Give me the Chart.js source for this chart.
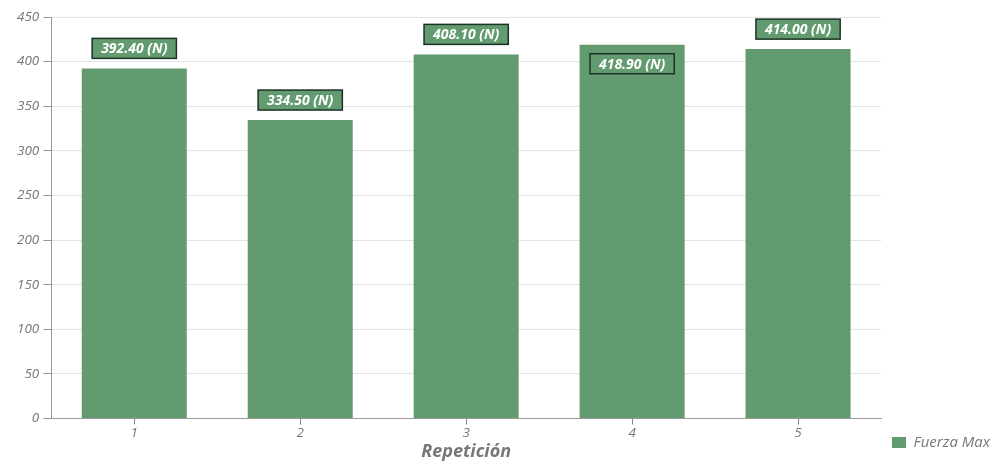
<!DOCTYPE html>
<html>
<head>
<meta charset="utf-8">
<script src="https://cdn.jsdelivr.net/npm/chart.js@4/dist/chart.umd.min.js"></script>
<style>
  html, body { margin: 0; padding: 0; background: #fff; }
  .ChartBox { width: 1000px; height: 461px; }
</style>
</head>
<body>
<div class="ChartBox"><canvas id="Chart"></canvas></div>
<script>
let repeticiones = ['1', '2', '3', '4', '5'];
let fuerzaMax = [392.40, 334.50, 408.10, 418.90, 414.00];
let yTicks = [0, 50, 100, 150, 200, 250, 300, 350, 400, 450];

let barColor = '#629b6f';
let grayText = '#777777';

// etiquetas "xxx.xx (N)" encima de cada barra
let valueLabels = {
    id: 'valueLabels',
    afterDatasetsDraw(chart) {
        let ctx = chart.ctx;
        let area = chart.chartArea;
        let meta = chart.getDatasetMeta(0);
        ctx.save();
        ctx.font = 'italic bold 14px "Open Sans"';
        meta.data.forEach((bar, i) => {
            let text = fuerzaMax[i].toFixed(2) + ' (N)';
            let w = ctx.measureText(text).width + 18;
            let h = 20;
            let top = bar.y - 10 - h;
            if (top < area.top) {
                top = bar.y + 9;
            }
            let left = bar.x - w / 2;
            ctx.fillStyle = barColor;
            ctx.fillRect(left, top, w, h);
            ctx.lineWidth = 1.5;
            ctx.strokeStyle = '#1c3324';
            ctx.strokeRect(left, top, w, h);
            ctx.fillStyle = '#ffffff';
            ctx.textAlign = 'center';
            ctx.textBaseline = 'middle';
            ctx.fillText(text, bar.x, top + h / 2 + 1);
        });
        ctx.restore();
    }
};

let ctx = document.getElementById('Chart').getContext('2d');
new Chart(ctx, {
    type: 'bar',
    data: {
        labels: repeticiones,
        datasets: [{
            label: 'Fuerza Max',
            data: fuerzaMax,
            backgroundColor: barColor,
            borderWidth: 0,
            barPercentage: 0.633,
            categoryPercentage: 1
        }]
    },
    options: {
        responsive: true,
        maintainAspectRatio: false,
        animation: false,
        layout: { padding: { top: 17, left: 13, right: 0, bottom: 0 } },
        plugins: {
            tooltip: { enabled: false },
            legend: {
                position: 'right',
                align: 'end',
                labels: {
                    boxWidth: 14,
                    boxHeight: 11,
                    color: grayText,
                    padding: 11,
                    font: { family: 'Open Sans', style: 'italic', size: 15 }
                }
            }
        },
        scales: {
            x: {
                grid: { display: true, offset: false, drawOnChartArea: false, tickLength: 6, color: '#888', tickColor: '#888' },
                border: { color: '#999' },
                ticks: {
                    color: grayText,
                    padding: 2,
                    font: { family: 'Open Sans', style: 'italic', size: 13.5, lineHeight: 1 }
                },
                title: {
                    display: true,
                    text: 'Repetición',
                    color: grayText,
                    padding: { top: 1, bottom: 0 },
                    font: { family: 'Open Sans', style: 'italic', weight: 'bold', size: 18, lineHeight: 1 }
                }
            },
            y: {
                min: 0,
                max: 450,
                afterBuildTicks: axis => {
                    axis.ticks = yTicks.map(v => ({ value: v }));
                },
                grid: { color: '#e3e3e3', tickLength: 8, tickColor: '#999' },
                border: { color: '#999' },
                ticks: {
                    color: grayText,
                    padding: 4,
                    font: { family: 'Open Sans', style: 'italic', size: 13.5 }
                }
            }
        }
    },
    plugins: [valueLabels]
});
</script>
</body>
</html>
